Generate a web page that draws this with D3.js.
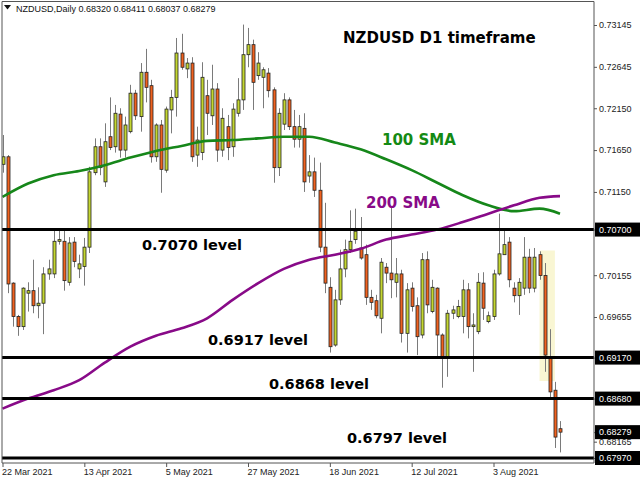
<!DOCTYPE html>
<html><head><meta charset="utf-8">
<script src="https://cdn.jsdelivr.net/npm/d3@7"></script>
<style>body{margin:0;background:#fff;overflow:hidden}</style>
</head><body>
<svg id="c" width="640" height="480"></svg>
<script>
// ---- DATA (NZDUSD daily, 22 Mar 2021 .. 20 Aug 2021) ----
const symbol = "NZDUSD,Daily";
const open  = [0.7148,0.7157,0.7006,0.6966,0.6954,0.6994,0.6997,0.6979,0.6982,0.7017,
  0.7017,0.7056,0.7056,0.7007,0.7055,0.7023,0.7026,0.7049,0.7138,0.7169,
  0.7127,0.7181,0.7169,0.7208,0.7165,0.7187,0.7233,0.7205,0.7258,0.7242,
  0.7157,0.7195,0.7141,0.7213,0.7228,0.7281,0.7262,0.7269,0.7159,0.7162,
  0.7230,0.7206,0.7238,0.7165,0.7193,0.7169,0.7209,0.7225,0.7279,0.7291,
  0.7254,0.7252,0.7257,0.7237,0.7144,0.7196,0.7225,0.7193,0.7178,0.7191,
  0.7134,0.7139,0.7117,0.7049,0.7001,0.6932,0.6986,0.7023,0.7046,0.7058,
  0.7048,0.7040,0.6989,0.6985,0.6964,0.7025,0.7018,0.7007,0.7017,0.6946,
  0.7000,0.6979,0.6944,0.7034,0.6972,0.7000,0.6944,0.6917,0.6970,0.6966,
  0.6966,0.6998,0.6954,0.6948,0.7006,0.6960,0.6966,0.7017,0.7040,0.7055,
  0.7000,0.6991,0.7000,0.7037,0.7000,0.7040,0.7015,0.6917,0.6878,0.68320];
const high  = [0.7183,0.7159,0.7007,0.6968,0.7001,0.7007,0.7034,0.7001,0.7025,0.7034,
  0.7070,0.7070,0.7070,0.7061,0.7061,0.7040,0.7060,0.7145,0.7179,0.7179,
  0.7197,0.7228,0.7219,0.7215,0.7205,0.7243,0.7237,0.7269,0.7286,0.7249,
  0.7197,0.7201,0.7217,0.7237,0.7299,0.7304,0.7275,0.7276,0.7193,0.7270,
  0.7249,0.7267,0.7245,0.7215,0.7207,0.7221,0.7251,0.7315,0.7311,0.7297,
  0.7282,0.7264,0.7263,0.7240,0.7215,0.7233,0.7228,0.7213,0.7207,0.7209,
  0.7159,0.7156,0.7150,0.7102,0.7013,0.6998,0.7046,0.7058,0.7093,0.7095,
  0.7085,0.7052,0.6998,0.6992,0.7036,0.7030,0.7097,0.7036,0.7022,0.7006,
  0.7007,0.6989,0.7042,0.7044,0.7010,0.7001,0.6946,0.6974,0.6979,0.6986,
  0.7010,0.7006,0.6970,0.7018,0.7019,0.6972,0.7022,0.7089,0.7070,0.7061,
  0.7007,0.7012,0.7061,0.7047,0.7048,0.7044,0.7030,0.6951,0.6888,0.68411];
const low   = [0.7138,0.6994,0.6954,0.6943,0.6950,0.6972,0.6970,0.6964,0.6945,0.7010,
  0.7012,0.7052,0.6997,0.7003,0.7025,0.7012,0.7003,0.7042,0.7135,0.7135,
  0.7121,0.7165,0.7162,0.7156,0.7156,0.7185,0.7201,0.7187,0.7222,0.7150,
  0.7151,0.7114,0.7138,0.7185,0.7205,0.7261,0.7251,0.7151,0.7145,0.7153,
  0.7183,0.7195,0.7151,0.7157,0.7153,0.7157,0.7205,0.7213,0.7264,0.7213,
  0.7249,0.7215,0.7228,0.7126,0.7134,0.7189,0.7189,0.7168,0.7168,0.7115,
  0.7126,0.7109,0.7043,0.6994,0.6923,0.6930,0.6980,0.7013,0.7042,0.7053,
  0.7034,0.6980,0.6974,0.6964,0.6946,0.7006,0.6988,0.6989,0.6935,0.6923,
  0.6972,0.6920,0.6940,0.6970,0.6970,0.6918,0.6881,0.6894,0.6963,0.6964,
  0.6946,0.6940,0.6900,0.6945,0.6962,0.6958,0.6962,0.7015,0.7040,0.7001,
  0.6983,0.6968,0.6992,0.6994,0.6995,0.7010,0.6900,0.6869,0.6809,0.68037];
const close = [0.7157,0.7005,0.6966,0.6954,0.7000,0.6997,0.6979,0.6982,0.7017,0.7023,
  0.7056,0.7058,0.7009,0.7054,0.7032,0.7029,0.7049,0.7139,0.7169,0.7144,
  0.7175,0.7168,0.7209,0.7165,0.7195,0.7233,0.7206,0.7258,0.7240,0.7157,
  0.7195,0.7142,0.7214,0.7228,0.7281,0.7264,0.7269,0.7157,0.7177,0.7252,
  0.7209,0.7238,0.7165,0.7203,0.7168,0.7214,0.7225,0.7279,0.7291,0.7246,
  0.7269,0.7261,0.7236,0.7144,0.7209,0.7225,0.7193,0.7178,0.7193,0.7127,
  0.7139,0.7117,0.7049,0.7006,0.6930,0.6986,0.7023,0.7046,0.7056,0.7068,
  0.7036,0.6989,0.6983,0.6967,0.7031,0.7018,0.7010,0.7017,0.6946,0.6998,
  0.6978,0.6942,0.7034,0.6980,0.7001,0.6944,0.6917,0.6970,0.6974,0.6978,
  0.6998,0.6954,0.6956,0.7007,0.6976,0.6967,0.7017,0.7041,0.7052,0.7010,
  0.6991,0.7007,0.7037,0.7000,0.7037,0.7015,0.6920,0.6876,0.6822,0.68279];

const smaIndex = [0,5,10,15,20,25,30,35,40,45,50,55,60,65,70,75,80,85,90,95,100,105,109];
const sma100 = [0.7109,0.7125,0.7135,0.7140,0.7147,0.7156,0.7164,0.7170,0.7176,0.7177,0.7179,0.7181,
  0.7181,0.7174,0.7166,0.7154,0.7141,0.7126,0.7111,0.7099,0.7092,0.7095,0.7089];
const sma200 = [0.6856,0.6868,0.6878,0.6890,0.6911,0.6930,0.6943,0.6952,0.6964,0.6986,0.7006,0.7023,
  0.7034,0.7040,0.7047,0.7058,0.7064,0.7070,0.7079,0.7089,0.7099,0.7108,0.7110];

const dateTickIndex = [0,16,32,48,64,80,96];
const dateTicks = ["22 Mar 2021","13 Apr 2021","5 May 2021","27 May 2021","18 Jun 2021","12 Jul 2021","3 Aug 2021"];
const priceTicks = [0.73145,0.72645,0.72150,0.71650,0.71150,0.70155,0.69655,0.68165];
const levels = [0.7070,0.6917,0.6868,0.6797];
const levelTags = [0.70700,0.69170,0.68680,0.67970];
const levelLabels = ["0.7070 level","0.6917 level","0.6868 level","0.6797 level"];
const highlight = {from:105, to:108, top:0.7045, bottom:0.6889};
const title = "NZDUSD D1 timeframe";

// ---- LAYOUT ----
const svg = d3.select("#c");
const plot = {l:2, r:594, t:1.5, b:463};
const x = d3.scaleLinear().domain([0,109]).range([2.5,560]);
const y = d3.scaleLinear().domain([0.6797,0.73145]).range([458,25]);
const bull = "#c4d631", bear = "#f0621f";
const font = "'Liberation Sans', Arial, sans-serif";
const bold = "'DejaVu Sans', Verdana, sans-serif";

svg.append("rect").attr("width",640).attr("height",480).attr("fill","#fff");
const clip = svg.append("defs").append("clipPath").attr("id","pc").append("rect")
  .attr("x",plot.l).attr("y",plot.t).attr("width",plot.r-plot.l).attr("height",plot.b-plot.t);
const g = svg.append("g").attr("clip-path","url(#pc)");

// highlight
g.append("rect").attr("x",x(highlight.from)).attr("width",x(highlight.to)-x(highlight.from))
  .attr("y",y(highlight.top)).attr("height",y(highlight.bottom)-y(highlight.top))
  .attr("fill","#f9f6d3");

// candles
const idx = d3.range(open.length);
g.selectAll("line.wick").data(idx).join("line").attr("class","wick")
  .attr("x1",i=>Math.round(x(i))+0.5).attr("x2",i=>Math.round(x(i))+0.5)
  .attr("y1",i=>y(high[i])).attr("y2",i=>y(low[i]))
  .attr("stroke","#7a7a7a").attr("stroke-width",1);
g.selectAll("rect.body").data(idx).join("rect").attr("class","body")
  .attr("x",i=>Math.round(x(i))-1)
  .attr("width",3)
  .attr("y",i=>y(Math.max(open[i],close[i])))
  .attr("height",i=>Math.max(1,Math.abs(y(open[i])-y(close[i]))))
  .attr("fill",i=>close[i]>=open[i]?bull:bear)
  .attr("stroke","#222").attr("stroke-width",0.8);

// SMAs
const line = d3.line().x((d,k)=>x(smaIndex[k])).y(d=>y(d)).curve(d3.curveMonotoneX);
g.append("path").datum(sma100).attr("d",line).attr("fill","none").attr("stroke","#16871a").attr("stroke-width",2.6);
g.append("path").datum(sma200).attr("d",line).attr("fill","none").attr("stroke","#880a88").attr("stroke-width",2.6);

// level lines
g.selectAll("line.lvl").data(levels).join("line").attr("class","lvl")
  .attr("x1",plot.l).attr("x2",plot.r).attr("y1",d=>y(d)).attr("y2",d=>y(d))
  .attr("stroke","#000").attr("stroke-width",3);

// frame
svg.append("path").attr("d",`M${plot.l},${plot.b}V${plot.t}H${plot.r}V${plot.b}H${plot.l}`)
  .attr("fill","none").attr("stroke","#555").attr("stroke-width",1);

// bottom axis
const xa = svg.append("g").attr("transform",`translate(0,${plot.b})`)
  .call(d3.axisBottom(x).tickValues(dateTickIndex).tickFormat((d,k)=>dateTicks[k]).tickSize(4).tickSizeOuter(0));
xa.select(".domain").remove();
xa.selectAll("line").attr("stroke","#555");
xa.selectAll("text").attr("text-anchor","start").attr("dx",-1).attr("dy","0.55em")
  .attr("font-family",font).attr("font-size",9).attr("fill","#222");

// right axis
const ya = svg.append("g").attr("transform",`translate(${plot.r},0)`)
  .call(d3.axisRight(y).tickValues(priceTicks.concat(levelTags,[close[close.length-1]])).tickFormat(d3.format(".5f")).tickSize(3).tickSizeOuter(0));
ya.select(".domain").remove();
ya.selectAll("line").attr("stroke","#555");
ya.selectAll("text").attr("x",5).attr("font-family",font).attr("font-size",9).attr("fill","#222");
// boxed tags
const tagVals = levelTags.concat([close[close.length-1]]);
const tags = svg.append("g").selectAll("g").data(tagVals).join("g")
  .attr("transform",d=>`translate(${plot.r+1},${y(d)})`);
tags.append("rect").attr("x",0).attr("y",-7).attr("width",45).attr("height",14).attr("fill","#000");
tags.append("text").attr("x",4).attr("dy","0.35em").text(d=>d3.format(".5f")(d))
  .attr("font-family",font).attr("font-size",9).attr("fill","#fff");

// header
svg.append("path").attr("d","M4,5H11L7.5,9.5Z").attr("fill","#111");
svg.append("text").attr("x",16).attr("y",11.5).attr("font-family",font).attr("font-size",9).attr("fill","#111")
  .text(`${symbol}  ${[open,high,low,close].map(a=>d3.format(".5f")(a[a.length-1])).join(" ")}`);

// annotations
svg.append("text").attr("x",343).attr("y",43).text(title)
  .attr("font-family",bold).attr("font-weight","bold").attr("font-size",15).attr("fill","#000");
svg.append("text").attr("x",382).attr("y",145).text("100 SMA")
  .attr("font-family",bold).attr("font-weight","bold").attr("font-size",15).attr("fill","#148a14");
svg.append("text").attr("x",366).attr("y",208).text("200 SMA")
  .attr("font-family",bold).attr("font-weight","bold").attr("font-size",15).attr("fill","#880a88");
const lblPos = [[142,250],[208,345],[269,389],[347,443]];
svg.selectAll("text.lvl").data(levelLabels).join("text").attr("class","lvl")
  .attr("x",(d,k)=>lblPos[k][0]).attr("y",(d,k)=>lblPos[k][1]).text(d=>d)
  .attr("font-family",bold).attr("font-weight","bold").attr("font-size",14.5).attr("fill","#000");
</script>
</body></html>
